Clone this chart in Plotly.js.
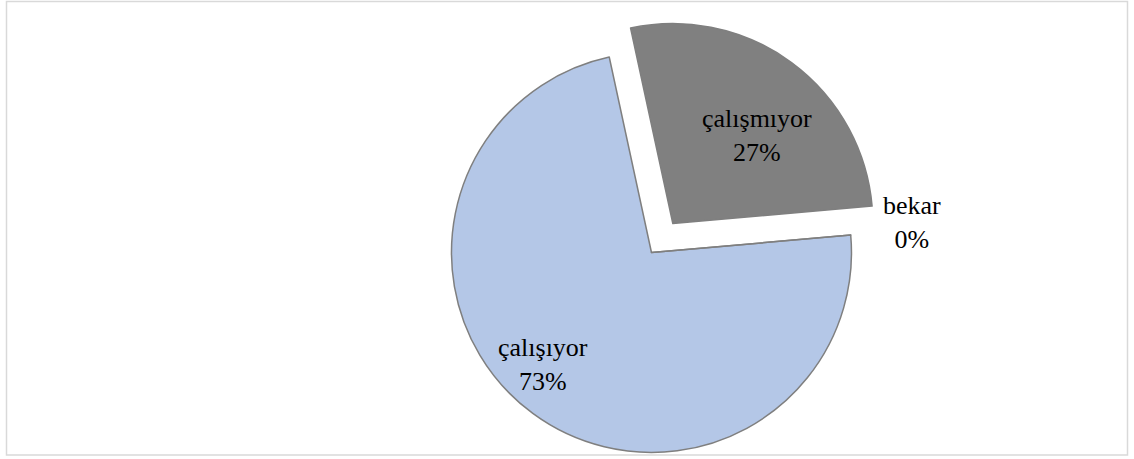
<!DOCTYPE html>
<html>
<head>
<meta charset="utf-8">
<script src="https://cdn.plot.ly/plotly-3.0.1.min.js"></script>
<style>
  html, body { margin: 0; padding: 0; background: #ffffff; overflow: hidden; }
  #wrap { width: 1134px; height: 459px; overflow: hidden; position: relative; }
  #chart { width: 1134px; height: 505px; }
</style>
</head>
<body>
<div id="wrap"><div id="chart"></div></div>
<script>
// Data
const labels = ['çalışıyor', 'çalışmıyor', 'bekar'];
const values = [73, 27, 0];
const pulls = [0, 0.18, 0];
const sliceColors = ['#b4c7e7', '#808080', '#b4c7e7'];

// Label placement styles (radius fraction and angle shift per slice)
const labelRadius = [0.78, 0.61, 1.31];
const labelAngleShift = [7.5, 7.5, -1.5];

const W = 1134, H = 505;
const ROT = 85;
const domX = [0.3664, 0.7826], domY = [0.0327, 0.9673];
const FONT = 'Liberation Serif, Times New Roman, serif';
const FS = 26;

const trace = {
  type: 'pie',
  labels: labels,
  values: values,
  pull: pulls,
  sort: false,
  direction: 'clockwise',
  rotation: ROT,
  textinfo: 'none',
  marker: { colors: sliceColors, line: { color: '#7f7f7f', width: 1.5 } },
  domain: { x: domX, y: domY },
  hoverinfo: 'label+percent',
  showlegend: false
};

// Geometry derived from the domain, same rules Plotly uses
const cx = W * (domX[0] + domX[1]) / 2;
const cy = H * (1 - (domY[0] + domY[1]) / 2);
const maxPull = Math.max.apply(null, pulls);
const r = Math.min(W * (domX[1] - domX[0]), H * (domY[1] - domY[0])) / 2 / (1 + maxPull);
const total = values.reduce((a, b) => a + b, 0);

const annotations = [];
let cum = 0;
for (let i = 0; i < values.length; i++) {
  const span = 360 * values[i] / total;
  const mid = ROT + cum + span / 2;
  cum += span;
  const mr = mid * Math.PI / 180;
  const ox = cx + pulls[i] * r * Math.sin(mr);
  const oy = cy - pulls[i] * r * Math.cos(mr);
  const a = (mid + labelAngleShift[i]) * Math.PI / 180;
  const px = ox + labelRadius[i] * r * Math.sin(a);
  const py = oy - labelRadius[i] * r * Math.cos(a);
  annotations.push({
    xref: 'paper', yref: 'paper',
    x: px / W, y: 1 - py / H,
    xanchor: 'center', yanchor: 'middle',
    showarrow: false,
    text: labels[i] + '<br>' + Math.round(100 * values[i] / total) + '%',
    font: { family: FONT, size: FS, color: '#000000' },
    align: 'center'
  });
}

const layout = {
  width: W,
  height: H,
  margin: { l: 0, r: 0, t: 0, b: 0 },
  paper_bgcolor: '#ffffff',
  showlegend: false,
  font: { family: FONT, color: '#000000' },
  annotations: annotations,
  shapes: [{
    type: 'rect', xref: 'paper', yref: 'paper',
    x0: 6.5 / W, x1: 1127.5 / W, y0: 1 - 455 / H, y1: 1 - 1.5 / H,
    line: { color: '#d9d9d9', width: 1.5 }, fillcolor: 'rgba(0,0,0,0)'
  }]
};

Plotly.newPlot('chart', [trace], layout, { staticPlot: true, displayModeBar: false });
</script>
</body>
</html>
